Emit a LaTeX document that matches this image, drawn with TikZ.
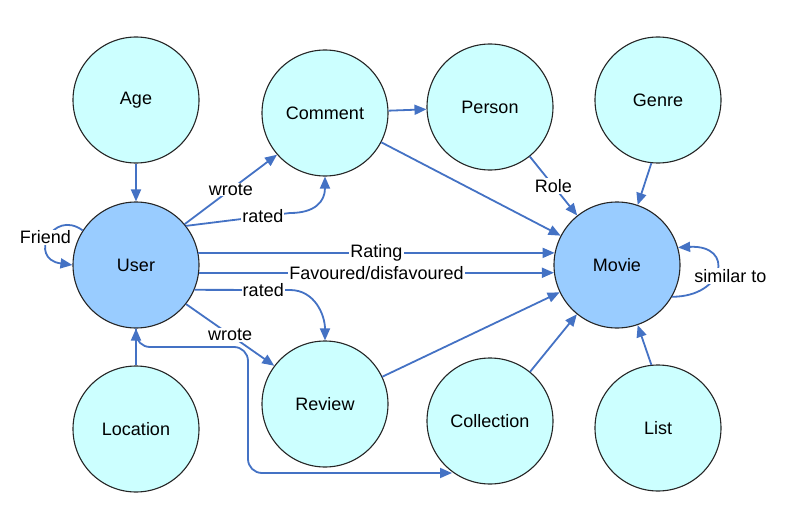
\documentclass[tikz,border=0pt]{standalone}
\usepackage{fontspec}
\setmainfont{Liberation Sans}
\usetikzlibrary{arrows.meta}
\definecolor{edgeblue}{RGB}{68,114,196}
\definecolor{entcyan}{RGB}{204,255,255}
\definecolor{mainblue}{RGB}{153,204,255}
\begin{document}
\begin{tikzpicture}[x=1pt,y=-1pt,
  ent/.style={circle, draw=black!85, line width=1.1pt, minimum size=126pt, inner sep=0pt, fill=entcyan, font=\fontsize{18}{21}\selectfont},
  mainent/.style={ent, fill=mainblue},
  edge/.style={draw=edgeblue, line width=1.8pt, -{Triangle[length=12pt,width=10pt]}},
  lbl/.style={fill=white, inner sep=1pt, font=\fontsize{18}{21}\selectfont, text=black}]
\useasboundingbox (0,0) rectangle (785,519);

\node[ent] (Age) at (136,100) {Age};
\node[ent] (Comment) at (325,113) {Comment};
\node[ent] (Person) at (490,107) {Person};
\node[ent] (Genre) at (658,100) {Genre};
\node[mainent] (User) at (136,265) {User};
\node[mainent] (Movie) at (617,265) {Movie};
\node[ent] (Location) at (136,429) {Location};
\node[ent] (Review) at (325,404) {Review};
\node[ent] (Collection) at (490,421) {Collection};
\node[ent] (List) at (658,428) {List};

\coordinate (rc) at (290,213);
\coordinate (rr) at (290,290);
\coordinate (c1) at (248,347);
\coordinate (c2) at (248,473);
\coordinate (c3) at (452,473);

\draw[edge] (Age) -- (User);
\draw[edge] (Location) -- (User);
\draw[edge] (User.147) .. controls +(-30,-22) and +(-45,-6) .. node[lbl, pos=0.5, xshift=-4pt]{Friend} (User.180);
\draw[edge] (User.40) -- node[lbl]{wrote} (Comment.221);
\draw[edge] (User.38) -- node[lbl, pos=0.74]{rated} (rc) .. controls +(25,0) and +(0,25) .. (Comment.south);
\draw[edge] (User.-23) -- node[lbl, pos=0.72]{rated} (rr) .. controls +(25,0) and +(0,-25) .. (Review.north);
\draw[edge] (User.-38) -- node[lbl]{wrote} (Review.143);
\draw[edge] (User.11) -- node[lbl]{Rating} (Movie.169);
\draw[edge] (User.-7) -- node[lbl]{Favoured/disfavoured} (Movie.187);
\draw[edge, rounded corners=14pt] (User.south) |- (c1) -- (c2) -- (c3);
\draw[edge] (Comment) -- (Person);
\draw[edge] (Comment) -- (Movie);
\draw[edge] (Person) -- node[lbl]{Role} (Movie);
\draw[edge] (Genre.-96) -- (Movie.71);
\draw[edge] (List.96) -- (Movie.-71);
\draw[edge] (Review) -- (Movie);
\draw[edge] (Collection) -- (Movie);
\draw[edge] (Movie.-30) .. controls +(53,0) and +(57,-3) .. node[lbl, pos=0.5, xshift=14pt, yshift=-5pt]{similar to} (Movie.16);
\end{tikzpicture}
\end{document}
